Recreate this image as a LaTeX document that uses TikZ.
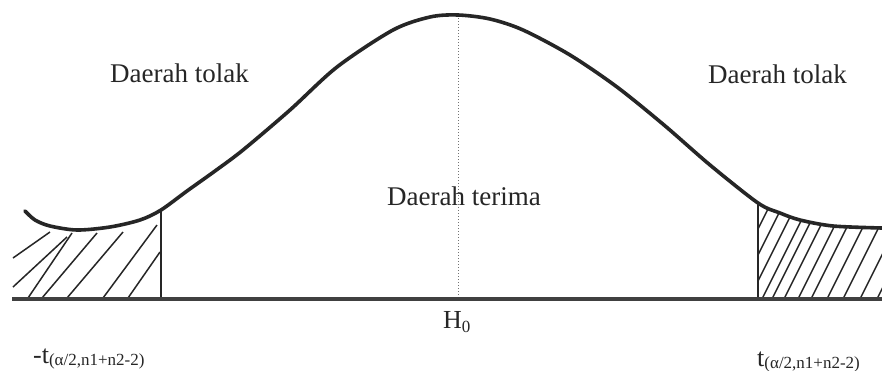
\documentclass[tikz,border=0pt]{standalone}
\usepackage{fontspec}
\setmainfont{Liberation Serif}
\begin{document}
\begin{tikzpicture}[x=1pt,y=-1pt,
  ink/.style={black!85},
  curveline/.style={ink, line width=3.6pt, line cap=round, line join=round},
  baseline/.style={black!75, line width=4pt},
  cutline/.style={ink, line width=1.4pt},
  hatch/.style={ink, line width=1.5pt},
  axisdot/.style={black!55, line width=1pt, dotted},
  lbl/.style={ink, inner sep=0pt, font=\fontsize{27}{30}\selectfont},
  tlbl/.style={ink, inner sep=0pt, anchor=base west}
]
\useasboundingbox (0,0) rectangle (882,370);
\fill[white] (0,0) rectangle (882,370);

% coordinates
\coordinate (bl) at (12,299);
\coordinate (br) at (882,299);
\coordinate (peak) at (458,15);
\coordinate (axisfoot) at (458,299);
\coordinate (lcuttop) at (161,211);
\coordinate (lcutfoot) at (161,299);
\coordinate (rcuttop) at (758,203);
\coordinate (rcutfoot) at (758,299);

% right hatching (clipped under the tail)
\begin{scope}
\clip (758,299) -- plot[smooth, tension=0.5] coordinates {(758,203) (780,213) (800,220) (833,226) (882,228)} -- (882,299) -- cycle;
\foreach \b in {723,736,749,762,772,784,798,811,827,843,860,877}
  \draw[hatch] (\b,299) -- ++(50,-100);
\end{scope}

% left hatching
\draw[hatch] (13,258) -- (50,232);
\draw[hatch] (13,287) -- (67,237);
\draw[hatch] (28,298) -- (72,233);
\draw[hatch] (42,298) -- (97,233);
\draw[hatch] (67,298) -- (123,232);
\draw[hatch] (103,298) -- (157,225);
\draw[hatch] (128,298) -- (160,252);

% dotted axis
\draw[axisdot] (peak) -- (axisfoot);

% cut lines
\draw[cutline] (lcuttop) -- (lcutfoot);
\draw[cutline] (rcuttop) -- (rcutfoot);

% baseline
\draw[baseline] (bl) -- (br);

% curve
\draw[curveline] plot[smooth, tension=0.5] coordinates {
  (25,211) (35,220) (50,226) (77,230) (110,227) (140,220) (161,210)
  (187,191) (215,171) (243,150) (290,110) (337,67) (393,30) (430,17)
  (458,15) (490,19) (523,30) (570,55) (617,87) (664,125) (710,165)
  (758,203) (780,213) (800,220) (833,226) (882,228)};

% labels
\node[lbl, anchor=base west] (tolakL) at (110,82) {Daerah tolak};
\node[lbl, anchor=base west] (tolakR) at (708,83) {Daerah tolak};
\node[lbl, anchor=base west] (terima) at (387,205) {Daerah terima};
\node[tlbl] (h0) at (443,328) {\fontsize{26}{28}\selectfont H\raisebox{-4pt}{\fontsize{17}{20}\selectfont 0}};
\node[tlbl] (tL) at (33,363) {\fontsize{26}{28}\selectfont -t\raisebox{-2pt}{\fontsize{17}{20}\selectfont (α/2,n1+n2-2)}};
\node[tlbl] (tR) at (757,366) {\fontsize{26}{28}\selectfont t\raisebox{-2pt}{\fontsize{17}{20}\selectfont (α/2,n1+n2-2)}};
\end{tikzpicture}
\end{document}
